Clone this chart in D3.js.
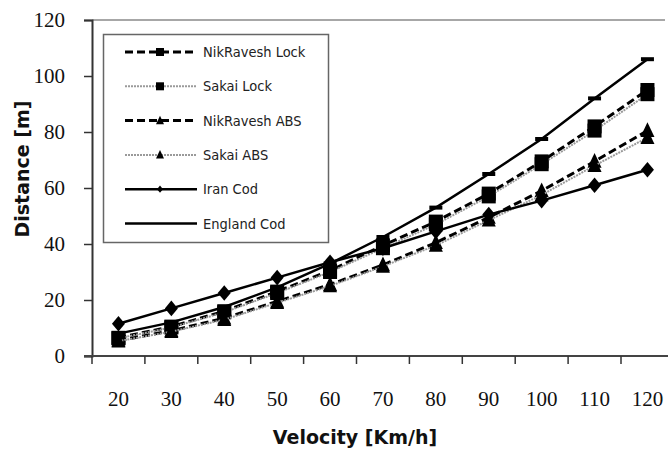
<!DOCTYPE html>
<html>
<head>
<meta charset="utf-8">
<script src="https://cdn.jsdelivr.net/npm/d3@7"></script>
<style>
  html, body { margin: 0; padding: 0; background: #fff; }
  svg { display: block; }
</style>
</head>
<body>
<svg id="chart" width="668" height="449"></svg>
<script>
// Stopping distance versus velocity for several braking models
const velocities = [20, 30, 40, 50, 60, 70, 80, 90, 100, 110, 120];
const nikraveshLock = [6.5, 10.5, 16, 23, 30.5, 39.5, 48, 58, 69.5, 82, 95];
const sakaiLock     = [6.3, 10.2, 15.6, 22.5, 30, 38.5, 47, 57, 68.5, 80.5, 93.5];
const nikraveshABS  = [5.5, 9, 13.5, 19.5, 25.5, 32.5, 40.5, 49.5, 59, 69.5, 80.5];
const sakaiABS      = [5.3, 8.7, 13, 19, 25, 32, 39.5, 48.5, 57.5, 68, 78];
const iranCod       = [11.5, 17, 22.5, 28, 33.5, 38.5, 44.5, 50.5, 55.5, 61, 66.5];
const englandCod    = [8, 12, 17.5, 24.5, 33, 42.5, 53, 65, 77.5, 92, 106];
const yTicks = [0, 20, 40, 60, 80, 100, 120];
const seriesNames = ["NikRavesh Lock", "Sakai Lock", "NikRavesh ABS", "Sakai ABS", "Iran Cod", "England Cod"];

const series = [
  { name: seriesNames[0], values: nikraveshLock, stroke: "#000", width: 3, dash: "8,4", marker: "square" },
  { name: seriesNames[1], values: sakaiLock, stroke: "#9a9a9a", width: 2, dash: "2,1", marker: "square" },
  { name: seriesNames[2], values: nikraveshABS, stroke: "#000", width: 3, dash: "8,4", marker: "triangle" },
  { name: seriesNames[3], values: sakaiABS, stroke: "#9a9a9a", width: 2, dash: "2,1", marker: "triangle" },
  { name: seriesNames[4], values: iranCod, stroke: "#000", width: 2.5, dash: null, marker: "diamond" },
  { name: seriesNames[5], values: englandCod, stroke: "#000", width: 2.5, dash: null, marker: "dash" }
];

const svg = d3.select("#chart");
const plotLeft = 92, plotBottom = 356, plotTop = 20, step = 52.9;

const x = d3.scaleBand().domain(velocities).range([plotLeft, plotLeft + step * velocities.length]).padding(0);
const xc = v => x(v) + x.bandwidth() / 2;
const y = d3.scaleLinear().domain([0, 120]).range([plotBottom, plotTop]);

// top frame line of the plot area
svg.append("line").attr("x1", plotLeft).attr("x2", 665).attr("y1", plotTop).attr("y2", plotTop)
  .attr("stroke", "#8a8a8a").attr("stroke-width", 1.5);

// y axis
const yAxis = svg.append("g").attr("transform", `translate(${plotLeft},0)`)
  .call(d3.axisLeft(y).tickValues(yTicks).tickSize(8).tickPadding(19).tickFormat(d3.format("d")));
yAxis.select(".domain").attr("stroke", "#333").attr("stroke-width", 2);
yAxis.selectAll(".tick line").attr("stroke", "#333").attr("stroke-width", 1.5);
yAxis.selectAll("text").attr("font-family", "'Liberation Serif', serif").attr("font-size", 21).attr("fill", "#111");

// x axis: labels at category centres, ticks between categories
const xAxis = svg.append("g").attr("transform", `translate(0,${plotBottom})`)
  .call(d3.axisBottom(x).tickSize(0).tickPadding(35));
xAxis.select(".domain").remove();
xAxis.selectAll("text").attr("font-family", "'Liberation Serif', serif").attr("font-size", 21).attr("fill", "#111");
svg.append("line").attr("x1", plotLeft - 8).attr("x2", 668).attr("y1", plotBottom).attr("y2", plotBottom)
  .attr("stroke", "#444").attr("stroke-width", 2.2);
svg.append("g").selectAll("line").data(velocities).join("line")
  .attr("x1", d => x(d)).attr("x2", d => x(d))
  .attr("y1", plotBottom).attr("y2", plotBottom + 8)
  .attr("stroke", "#333").attr("stroke-width", 1.5);

// axis titles
svg.append("text").attr("x", 355).attr("y", 444).attr("text-anchor", "middle")
  .attr("font-family", "'DejaVu Sans', sans-serif").attr("font-weight", "bold").attr("font-size", 19)
  .attr("fill", "#111").text("Velocity [Km/h]");
svg.append("text").attr("transform", "translate(29,169) rotate(-90)").attr("text-anchor", "middle")
  .attr("font-family", "'DejaVu Sans', sans-serif").attr("font-weight", "bold").attr("font-size", 19)
  .attr("fill", "#111").text("Distance [m]");

function drawMarker(g, type, cx, cy, s) {
  if (type === "square") {
    g.append("rect").attr("x", cx - s / 2).attr("y", cy - s / 2).attr("width", s).attr("height", s).attr("fill", "#000");
  } else if (type === "triangle") {
    g.append("path").attr("d", `M${cx},${cy - s * 0.6}L${cx + s * 0.5},${cy + s * 0.45}L${cx - s * 0.5},${cy + s * 0.45}Z`).attr("fill", "#000");
  } else if (type === "diamond") {
    g.append("path").attr("d", `M${cx},${cy - s * 0.6}L${cx + s * 0.5},${cy}L${cx},${cy + s * 0.6}L${cx - s * 0.5},${cy}Z`).attr("fill", "#000");
  } else if (type === "dash") {
    g.append("rect").attr("x", cx - s / 2).attr("y", cy - 2).attr("width", s).attr("height", 4).attr("fill", "#000");
  }
}

// series lines and markers
const line = d3.line().x((d, i) => xc(velocities[i])).y(d => y(d));
series.forEach(s => {
  const g = svg.append("g");
  g.append("path").datum(s.values).attr("d", line).attr("fill", "none")
    .attr("stroke", s.stroke).attr("stroke-width", s.width)
    .attr("stroke-dasharray", s.dash);
  const size = s.marker === "square" || s.marker === "triangle" ? 14 : 13;
  s.values.forEach((v, i) => drawMarker(g, s.marker, xc(velocities[i]), y(v), size));
});

// legend
const lg = svg.append("g");
lg.append("rect").attr("x", 103.5).attr("y", 34.5).attr("width", 225).attr("height", 208)
  .attr("fill", "#fff").attr("stroke", "#666").attr("stroke-width", 1.5);
series.forEach((s, i) => {
  const ry = 52 + i * 34.3;
  lg.append("line").attr("x1", 125).attr("x2", 197).attr("y1", ry).attr("y2", ry)
    .attr("stroke", s.stroke).attr("stroke-width", s.width).attr("stroke-dasharray", s.dash);
  if (s.marker !== "dash") {
    const size = s.marker === "diamond" ? 6 : 8;
    drawMarker(lg, s.marker, 160, ry, size);
  }
  lg.append("text").attr("x", 203).attr("y", ry + 5)
    .attr("font-family", "'DejaVu Sans', sans-serif").attr("font-stretch", "condensed")
    .attr("font-size", 14.5).attr("fill", "#222").text(s.name);
});
</script>
</body>
</html>
